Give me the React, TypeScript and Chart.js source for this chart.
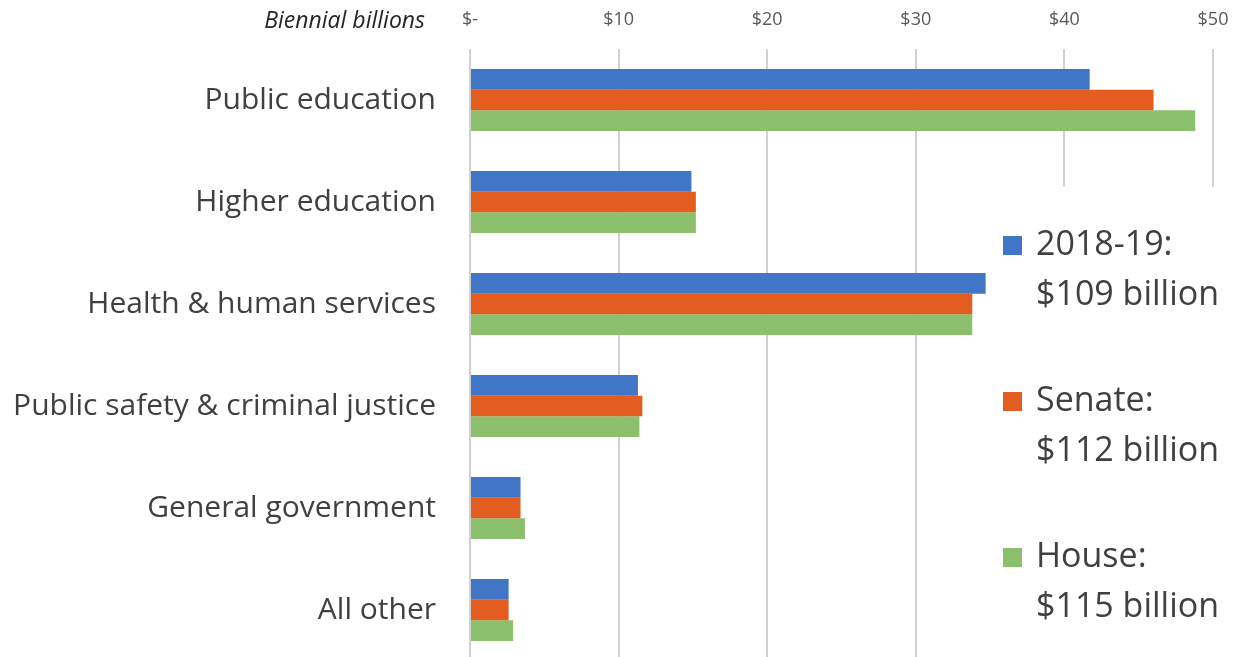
import React, { useEffect, useRef } from "react";
import { Chart, registerables } from "chart.js";

Chart.register(...registerables);

const categories = [
  "Public education",
  "Higher education",
  "Health & human services",
  "Public safety & criminal justice",
  "General government",
  "All other",
];
const current = [41.7, 14.9, 34.7, 11.3, 3.4, 2.6];
const senate = [46.0, 15.2, 33.8, 11.6, 3.4, 2.6];
const house = [48.8, 15.2, 33.8, 11.4, 3.7, 2.9];
const seriesNames = ["2018-19:", "Senate:", "House:"];
const seriesTotals = ["$109 billion", "$112 billion", "$115 billion"];
const tickLabels = ["$-", "$10", "$20", "$30", "$40", "$50"];
const axisCaption = "Biennial billions";
const colors = ["#4175C5", "#E35D20", "#8CC06C"];

const FONT = "'Open Sans', sans-serif";

const overlayPlugin = {
  id: "overlay",
  afterDraw(chart: any) {
    const ctx = chart.ctx;
    ctx.save();
    // caption
    ctx.font = `italic 23px ${FONT}`;
    ctx.fillStyle = "#262626";
    ctx.textAlign = "right";
    ctx.textBaseline = "middle";
    ctx.fillText(axisCaption, 425, 21);
    // legend background
    ctx.fillStyle = "#ffffff";
    ctx.fillRect(994, 187, 247, 480);
    // legend items
    ctx.font = `34px ${FONT}`;
    ctx.textAlign = "left";
    ctx.textBaseline = "middle";
    chart.data.datasets.forEach((ds: any, i: number) => {
      const y1 = 245 + i * 156;
      const y2 = y1 + 50;
      ctx.fillStyle = ds.backgroundColor;
      ctx.fillRect(1003, y1 - 9, 19, 19);
      ctx.fillStyle = "#404040";
      ctx.fillText(seriesNames[i], 1036, y1);
      ctx.fillText(seriesTotals[i], 1036, y2);
    });
    ctx.restore();
  },
};

export default function App() {
  const ref = useRef<HTMLCanvasElement | null>(null);
  useEffect(() => {
    if (!ref.current) return;
    const chart = new Chart(ref.current, {
      type: "bar",
      data: {
        labels: categories,
        datasets: [
          { label: seriesNames[0], data: current, backgroundColor: colors[0] },
          { label: seriesNames[1], data: senate, backgroundColor: colors[1] },
          { label: seriesNames[2], data: house, backgroundColor: colors[2] },
        ],
      },
      options: {
        indexAxis: "y",
        animation: false,
        responsive: true,
        maintainAspectRatio: false,
        layout: { padding: { left: 0, right: 28, top: 0, bottom: 0 } },
        datasets: {
          bar: { categoryPercentage: 0.61, barPercentage: 1.0 },
        },
        plugins: {
          legend: { display: false },
          tooltip: { enabled: false },
        },
        scales: {
          x: {
            type: "linear",
            position: "top",
            min: 0,
            max: 50,
            afterFit: (s: any) => {
              s.height = 49;
              s.paddingLeft = 0;
              s.paddingRight = 0;
            },
            ticks: {
              stepSize: 10,
              padding: 18,
              color: "#595959",
              font: { family: FONT, size: 18 },
              callback: (v: any) => tickLabels[Math.round(Number(v) / 10)],
            },
            grid: { color: "#d0d0d0", lineWidth: 2, drawTicks: false },
            border: { display: false },
          },
          y: {
            position: "left",
            afterFit: (s: any) => {
              s.width = 470;
              s.paddingTop = 0;
              s.paddingBottom = 0;
            },
            ticks: {
              padding: 34,
              color: "#404040",
              font: { family: FONT, size: 30 },
            },
            grid: { display: false, drawTicks: false },
            border: { display: false },
          },
        },
      },
      plugins: [overlayPlugin],
    } as any);
    return () => chart.destroy();
  }, []);

  return (
    <div style={{ position: "fixed", left: 0, top: 0, width: 1241, height: 657, overflow: "hidden", background: "#fff" }}>
      <div style={{ position: "relative", width: 1241, height: 661 }}>
        <canvas ref={ref} />
      </div>
    </div>
  );
}
